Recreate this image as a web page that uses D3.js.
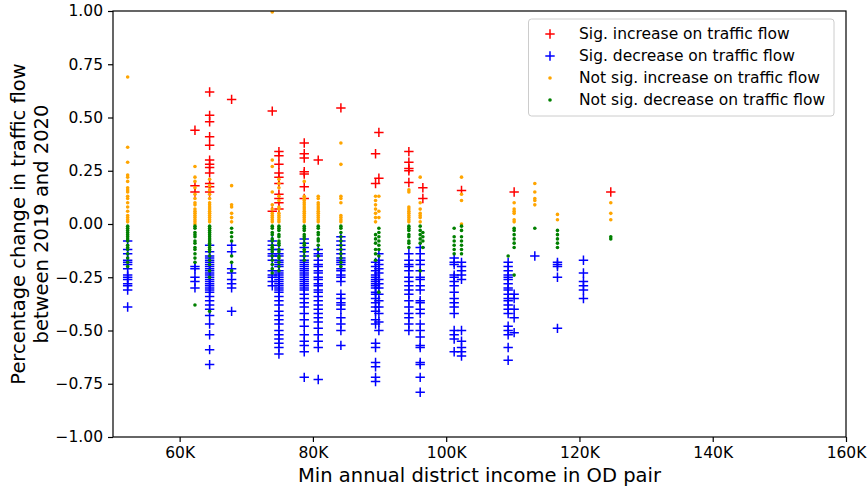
<!DOCTYPE html>
<html>
<head>
<meta charset="utf-8">
<script src="https://cdn.jsdelivr.net/npm/d3@7"></script>
<style>
  html, body { margin: 0; padding: 0; background: #fff; }
  svg { display: block; font-family: "DejaVu Sans", sans-serif; }
</style>
</head>
<body>
<svg id="chart" width="867" height="488"></svg>
<script>
// Income (USD) of each OD-pair column
const incomes = [52200, 62300, 64500, 67800, 73900, 74900, 78700, 80800, 84200, 89400, 89900,
                 94400, 96100, 96500, 101200, 102300, 109300, 110200, 113300, 116700, 120600, 124700];

// Significant increase (red +), one list per column
const sigIncrease = [
  [],
  [0.44, 0.18, 0.15],
  [0.62, 0.51, 0.48, 0.41, 0.37, 0.30, 0.28, 0.265, 0.24, 0.19, 0.175, 0.15],
  [0.585],
  [0.53, 0.06],
  [0.34, 0.32, 0.28, 0.24, 0.22, 0.19, 0.14, 0.12, 0.10, 0.07],
  [0.38, 0.33, 0.31, 0.245, 0.235, 0.175, 0.12],
  [0.30],
  [0.545],
  [0.33, 0.19],
  [0.43, 0.215],
  [0.34, 0.29, 0.26, 0.25, 0.195],
  [],
  [0.17, 0.12],
  [],
  [0.157],
  [],
  [0.15],
  [],
  [],
  [],
  [0.15]
];

// Significant decrease (blue +)
const sigDecrease = [
  [-0.08, -0.12, -0.14, -0.17, -0.18, -0.19, -0.21, -0.24, -0.25, -0.26, -0.28, -0.29, -0.31, -0.39],
  [-0.20, -0.21, -0.25, -0.27, -0.30],
  [-0.10, -0.13, -0.15, -0.16, -0.17, -0.18, -0.19, -0.20, -0.21, -0.22, -0.23, -0.24, -0.25, -0.26, -0.27,
   -0.28, -0.29, -0.30, -0.31, -0.32, -0.34, -0.36, -0.38, -0.40, -0.43, -0.47, -0.52, -0.59, -0.66],
  [-0.10, -0.13, -0.21, -0.23, -0.26, -0.28, -0.30, -0.41],
  [-0.08, -0.10, -0.12, -0.14, -0.15, -0.17, -0.22, -0.24, -0.25, -0.27, -0.29],
  [-0.12, -0.14, -0.15, -0.17, -0.18, -0.19, -0.20, -0.22, -0.23, -0.24, -0.25, -0.26, -0.27, -0.28, -0.29,
   -0.30, -0.31, -0.32, -0.34, -0.36, -0.38, -0.41, -0.43, -0.45, -0.47, -0.50, -0.52, -0.54, -0.56, -0.58, -0.61],
  [-0.07, -0.09, -0.11, -0.13, -0.15, -0.17, -0.18, -0.19, -0.20, -0.21, -0.22, -0.23, -0.24, -0.25, -0.26,
   -0.27, -0.28, -0.29, -0.30, -0.31, -0.33, -0.35, -0.37, -0.39, -0.42, -0.45, -0.48, -0.52, -0.55, -0.57, -0.60, -0.72],
  [-0.12, -0.14, -0.15, -0.17, -0.19, -0.20, -0.22, -0.23, -0.25, -0.26, -0.28, -0.29, -0.31, -0.32, -0.34,
   -0.36, -0.38, -0.40, -0.42, -0.44, -0.46, -0.49, -0.52, -0.55, -0.58, -0.73],
  [-0.06, -0.08, -0.10, -0.12, -0.14, -0.16, -0.17, -0.18, -0.19, -0.21, -0.22, -0.24, -0.25, -0.27, -0.33,
   -0.35, -0.37, -0.38, -0.40, -0.44, -0.47, -0.50, -0.57],
  [-0.18, -0.20, -0.22, -0.24, -0.25, -0.26, -0.27, -0.28, -0.29, -0.30, -0.32, -0.33, -0.35, -0.37, -0.39,
   -0.41, -0.45, -0.47, -0.56, -0.58, -0.65, -0.67, -0.72, -0.74],
  [-0.14, -0.17, -0.19, -0.21, -0.23, -0.26, -0.28, -0.30, -0.33, -0.36, -0.39, -0.42, -0.46, -0.50],
  [-0.14, -0.17, -0.19, -0.20, -0.22, -0.25, -0.27, -0.29, -0.31, -0.33, -0.36, -0.39, -0.42, -0.44, -0.47, -0.50],
  [-0.11, -0.14, -0.17, -0.19, -0.22, -0.25, -0.26, -0.29, -0.31, -0.36, -0.37, -0.40, -0.42, -0.47, -0.50,
   -0.53, -0.57, -0.58, -0.65, -0.66, -0.72, -0.79],
  [],
  [-0.16, -0.18, -0.19, -0.24, -0.25, -0.27, -0.29, -0.32, -0.35, -0.37, -0.39, -0.42, -0.50, -0.52, -0.54, -0.60],
  [-0.18, -0.20, -0.22, -0.24, -0.26, -0.50, -0.55, -0.58, -0.60, -0.62],
  [-0.18, -0.20, -0.22, -0.24, -0.25, -0.26, -0.28, -0.30, -0.31, -0.33, -0.35, -0.36, -0.38, -0.40, -0.42,
   -0.48, -0.50, -0.52, -0.58, -0.64],
  [-0.33, -0.35, -0.40, -0.44, -0.51],
  [-0.15],
  [-0.18, -0.19, -0.20, -0.25, -0.49],
  [-0.17, -0.23, -0.27, -0.29, -0.31, -0.35],
  []
];

// Not significant increase (orange dots)
const notSigIncrease = [
  [0.69, 0.36, 0.29, 0.23, 0.22, 0.20, 0.17, 0.16, 0.15, 0.13, 0.12, 0.10, 0.08, 0.06, 0.04, 0.03, 0.02, 0.01],
  [0.27, 0.22, 0.20, 0.17, 0.14, 0.12, 0.10, 0.09, 0.07, 0.06, 0.05, 0.04, 0.03, 0.02, 0.01, 0.00],
  [0.21, 0.18, 0.16, 0.14, 0.12, 0.10, 0.09, 0.08, 0.07, 0.06, 0.05, 0.04, 0.03, 0.02, 0.01],
  [0.18, 0.09, 0.08, 0.05, 0.03, 0.01],
  [0.995, 0.30, 0.27, 0.15, 0.09, 0.07, 0.05, 0.04, 0.03, 0.02, 0.01],
  [0.21, 0.19, 0.17, 0.13, 0.11, 0.08, 0.07, 0.05, 0.04, 0.03, 0.02, 0.01],
  [0.20, 0.13, 0.12, 0.11, 0.10, 0.09, 0.08, 0.07, 0.06, 0.05, 0.04, 0.03, 0.02, 0.01],
  [0.13, 0.12, 0.10, 0.09, 0.08, 0.07, 0.06, 0.05, 0.04, 0.03, 0.02, 0.01],
  [0.38, 0.28, 0.13, 0.12, 0.10, 0.04, 0.03, 0.02, 0.01],
  [0.13, 0.11, 0.09, 0.07, 0.05, 0.03, 0.01],
  [0.13, 0.06, 0.03],
  [0.16, 0.15, 0.08, 0.07, 0.06, 0.05, 0.04, 0.03, 0.02, 0.01],
  [0.22, 0.10, 0.07, 0.05, 0.04, 0.03, 0.01],
  [],
  [],
  [0.22, 0.14, 0.11, 0.00],
  [],
  [0.10, 0.07, 0.06, 0.05, 0.02, 0.01],
  [0.19, 0.15, 0.12, 0.11, 0.09],
  [0.045, 0.02],
  [],
  [0.10, 0.05, 0.02]
];

// Not significant decrease (green dots)
const notSigDecrease = [
  [-0.01, -0.02, -0.03, -0.04, -0.05, -0.06, -0.07, -0.08, -0.10, -0.11, -0.12, -0.14, -0.16, -0.18, -0.20],
  [-0.01, -0.02, -0.04, -0.05, -0.06, -0.08, -0.09, -0.11, -0.12, -0.14, -0.16, -0.18, -0.38],
  [-0.01, -0.02, -0.03, -0.04, -0.05, -0.06, -0.07, -0.08, -0.09, -0.10, -0.11, -0.12, -0.13, -0.15, -0.17,
   -0.19, -0.22, -0.25, -0.41],
  [-0.02, -0.04, -0.06, -0.08, -0.15, -0.18, -0.22],
  [-0.01, -0.02, -0.04, -0.05, -0.07, -0.08, -0.10, -0.11, -0.12, -0.13, -0.15, -0.17, -0.19, -0.21, -0.23],
  [-0.01, -0.02, -0.03, -0.05, -0.06, -0.08, -0.09, -0.10, -0.12, -0.13, -0.15, -0.16, -0.18, -0.20, -0.22],
  [-0.01, -0.02, -0.03, -0.05, -0.06, -0.07, -0.09, -0.10, -0.12, -0.13, -0.15, -0.17],
  [-0.01, -0.02, -0.04, -0.05, -0.07, -0.08, -0.10, -0.12, -0.15],
  [-0.01, -0.02, -0.04, -0.06, -0.08, -0.10, -0.12, -0.14, -0.16, -0.18, -0.20],
  [-0.05, -0.07, -0.09, -0.12, -0.14, -0.17],
  [-0.02, -0.04, -0.06, -0.08, -0.10, -0.12, -0.15, -0.32],
  [-0.01, -0.02, -0.03, -0.05, -0.06, -0.08, -0.09, -0.11],
  [-0.01, -0.03, -0.05, -0.07, -0.09, -0.22],
  [-0.04, -0.06, -0.08, -0.11],
  [-0.02, -0.06, -0.08, -0.10, -0.12, -0.14],
  [-0.01, -0.03, -0.06, -0.08, -0.10, -0.12, -0.14],
  [-0.15],
  [-0.02, -0.03, -0.05, -0.07, -0.09, -0.11, -0.24],
  [-0.02],
  [-0.03, -0.05, -0.07, -0.09, -0.11],
  [],
  [-0.06, -0.07]
];

const xTickValues = [60000, 80000, 100000, 120000, 140000, 160000];
const yTickValues = [-1.0, -0.75, -0.5, -0.25, 0.0, 0.25, 0.5, 0.75, 1.0];

const seriesInfo = [
  { label: "Sig. increase on traffic flow", color: "#ff0000", kind: "plus", values: sigIncrease },
  { label: "Sig. decrease on traffic flow", color: "#0000ff", kind: "plus", values: sigDecrease },
  { label: "Not sig. increase on traffic flow", color: "#ffa500", kind: "dot", values: notSigIncrease },
  { label: "Not sig. decrease on traffic flow", color: "#008000", kind: "dot", values: notSigDecrease }
];

const W = 867, H = 488;
const margin = { left: 113, right: W - 846, top: 11, bottom: H - 437 };
const svg = d3.select("#chart");

const x = d3.scaleLinear().domain([50000, 160000]).range([margin.left, W - margin.right]);
const y = d3.scaleLinear().domain([-1, 1]).range([H - margin.bottom, margin.top]);

svg.append("defs").append("clipPath").attr("id", "plotclip")
  .append("rect")
  .attr("x", margin.left).attr("y", margin.top)
  .attr("width", x.range()[1] - x.range()[0])
  .attr("height", y.range()[0] - y.range()[1]);

const plot = svg.append("g").attr("clip-path", "url(#plotclip)");

const plusPath = s => `M${-s},0H${s}M0,${-s}V${s}`;

seriesInfo.forEach(sr => {
  const pts = [];
  sr.values.forEach((col, i) => col.forEach(v => pts.push([incomes[i], v])));
  const g = plot.append("g");
  if (sr.kind === "plus") {
    g.selectAll("path").data(pts).enter().append("path")
      .attr("d", plusPath(4.7))
      .attr("transform", d => `translate(${x(d[0])},${y(d[1])})`)
      .attr("stroke", sr.color)
      .attr("stroke-width", 1.5)
      .attr("fill", "none");
  } else {
    g.selectAll("circle").data(pts).enter().append("circle")
      .attr("cx", d => x(d[0]))
      .attr("cy", d => y(d[1]))
      .attr("r", 1.8)
      .attr("fill", sr.color);
  }
});

// Axes
const fmtY = d => (d < 0 ? "\u2212" : "") + Math.abs(d).toFixed(2);
const fmtX = d => (d / 1000) + "K";

const yAxis = svg.append("g")
  .attr("transform", `translate(${margin.left},0)`)
  .call(d3.axisLeft(y).tickValues(yTickValues).tickFormat(fmtY).tickSizeOuter(0).tickSize(5).tickPadding(5));
const xAxis = svg.append("g")
  .attr("transform", `translate(0,${H - margin.bottom})`)
  .call(d3.axisBottom(x).tickValues(xTickValues).tickFormat(fmtX).tickSizeOuter(0).tickSize(5).tickPadding(5));

[yAxis, xAxis].forEach(a => {
  a.select(".domain").remove();
  a.selectAll("text").attr("font-size", 15.5).attr("fill", "#000").attr("font-family", "DejaVu Sans");
  a.selectAll("line").attr("stroke", "#000").attr("stroke-width", 1.2);
});

// Frame
svg.append("rect")
  .attr("x", margin.left).attr("y", margin.top)
  .attr("width", x.range()[1] - x.range()[0])
  .attr("height", y.range()[0] - y.range()[1])
  .attr("fill", "none").attr("stroke", "#000").attr("stroke-width", 1.2);

// Axis labels
svg.append("text")
  .attr("x", (x.range()[0] + x.range()[1]) / 2)
  .attr("y", 482)
  .attr("text-anchor", "middle")
  .attr("font-size", 19.5)
  .text("Min annual district income in OD pair");

const yl = svg.append("text")
  .attr("transform", `translate(0,${(y.range()[0] + y.range()[1]) / 2}) rotate(-90)`)
  .attr("text-anchor", "middle")
  .attr("font-size", 19.5);
yl.append("tspan").attr("x", 0).attr("y", 25).text("Percentage change in traffic flow");
yl.append("tspan").attr("x", 0).attr("y", 48).text("between 2019 and 2020");

// Legend
const leg = svg.append("g");
leg.append("rect")
  .attr("x", 528.5).attr("y", 19).attr("width", 305.5).attr("height", 97)
  .attr("rx", 3).attr("fill", "#fff").attr("fill-opacity", 0.8)
  .attr("stroke", "#cccccc").attr("stroke-width", 1);
const rowY = [34, 56, 78, 100];
seriesInfo.forEach((sr, i) => {
  const gy = rowY[i];
  if (sr.kind === "plus") {
    leg.append("path").attr("d", plusPath(4.7))
      .attr("transform", `translate(550,${gy})`)
      .attr("stroke", sr.color).attr("stroke-width", 1.5).attr("fill", "none");
  } else {
    leg.append("circle").attr("cx", 550).attr("cy", gy).attr("r", 1.8).attr("fill", sr.color);
  }
  leg.append("text").attr("x", 579).attr("y", gy).attr("dy", "0.35em")
    .attr("font-size", 15.5).text(sr.label);
});
</script>
</body>
</html>
